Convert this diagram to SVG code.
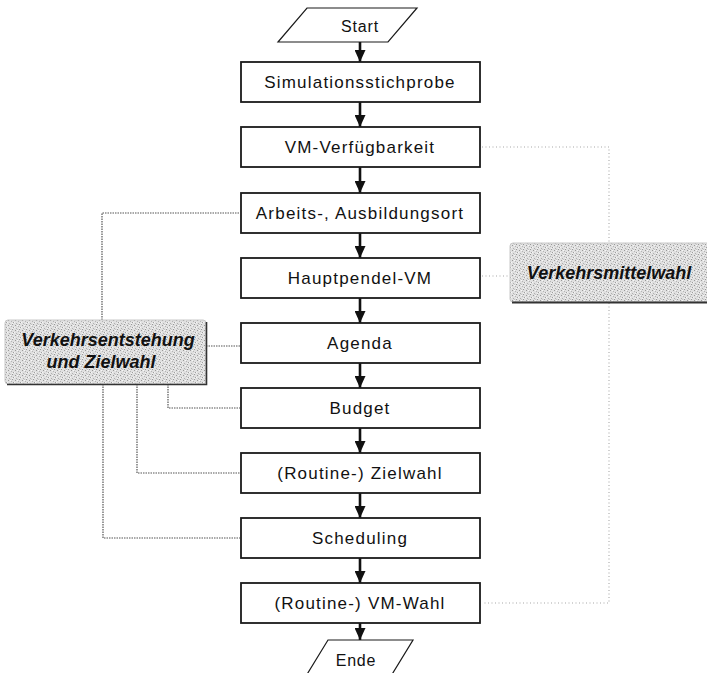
<svg xmlns="http://www.w3.org/2000/svg" width="707" height="673" viewBox="0 0 707 673">
  <defs>
    <!-- halftone-like speckle used for the two grey label panels -->
    <pattern id="speckle" width="7" height="5" patternUnits="userSpaceOnUse">
      <rect width="7" height="5" fill="#e0e0e0"/>
      <rect x="1" y="0" width="1" height="1" fill="#999"/>
      <rect x="4" y="1" width="1" height="1" fill="#b4b4b4"/>
      <rect x="6" y="2" width="1" height="1" fill="#a0a0a0"/>
      <rect x="2" y="3" width="1" height="1" fill="#b0b0b0"/>
      <rect x="5" y="4" width="1" height="1" fill="#989898"/>
      <rect x="0" y="2" width="1" height="1" fill="#f6f6f6"/>
      <rect x="3" y="0" width="1" height="1" fill="#f8f8f8"/>
      <rect x="5" y="3" width="1" height="1" fill="#f4f4f4"/>
      <rect x="3" y="4" width="1" height="1" fill="#c4c4c4"/>
    </pattern>
    <marker id="arrow" markerUnits="userSpaceOnUse" markerWidth="12" markerHeight="11" refX="12" refY="5.5" orient="auto">
      <path d="M0,0 L12,5.5 L0,11 z" fill="#111"/>
    </marker>
  </defs>
  <style>
    .box { fill: #fff; stroke: #1a1a1a; stroke-width: 1.8; }
    .io { fill: #fff; stroke: #1a1a1a; stroke-width: 1.2; }
    .lbl { font-family: "Liberation Sans", Arial, sans-serif; font-size: 17px; letter-spacing: 1.2px; fill: #111; text-anchor: middle; }
    .io-lbl { font-family: "Liberation Sans", Arial, sans-serif; font-size: 16px; letter-spacing: 0.8px; fill: #111; text-anchor: middle; }
    .panel { fill: url(#speckle); stroke: #c8c8c8; stroke-width: 1; }
    .panel-lbl { font-family: "Liberation Sans", Arial, sans-serif; font-size: 18px; font-weight: bold; font-style: italic; fill: #111; text-anchor: middle; }
    .flow { stroke: #111; stroke-width: 2.6; fill: none; marker-end: url(#arrow); }
    .link-l { stroke: #555; stroke-width: 1.2; stroke-dasharray: 1.5 1; fill: none; }
    .link-r { stroke: #a8a8a8; stroke-width: 1.1; stroke-dasharray: 1 2.5; fill: none; }
  </style>

  <!-- main process flow -->
  <g id="connectors">
    <path class="flow" d="M360,42 V62"/>
    <path class="flow" d="M360,102 V127"/>
    <path class="flow" d="M360,167 V193"/>
    <path class="flow" d="M360,233 V258"/>
    <path class="flow" d="M360,298 V323"/>
    <path class="flow" d="M360,363 V388"/>
    <path class="flow" d="M360,428 V453"/>
    <path class="flow" d="M360,493 V518"/>
    <path class="flow" d="M360,558 V583"/>
    <path class="flow" d="M360,623 V640"/>

    <!-- links from the left panel -->
    <path class="link-l" d="M102,320 V213 H240"/>
    <path class="link-l" d="M206,346 H240"/>
    <path class="link-l" d="M168,384 V408 H240"/>
    <path class="link-l" d="M137,384 V473 H240"/>
    <path class="link-l" d="M103,384 V538 H240"/>

    <!-- links from the right panel -->
    <path class="link-r" d="M482,147 H609 V243"/>
    <path class="link-r" d="M482,276 H509"/>
    <path class="link-r" d="M609,303 V603 H482"/>
  </g>

  <g id="start">
    <polygon class="io" points="307,8 417,8 388,42 278,42"/>
    <text class="io-lbl" x="360" y="32">Start</text>
  </g>

  <g id="simulationsstichprobe">
    <rect class="box" x="241" y="62" width="239" height="40"/>
    <text class="lbl" x="360" y="88">Simulationsstichprobe</text>
  </g>

  <g id="vm-verfuegbarkeit">
    <rect class="box" x="241" y="127" width="239" height="40"/>
    <text class="lbl" x="360" y="153">VM-Verfügbarkeit</text>
  </g>

  <g id="arbeitsort">
    <rect class="box" x="241" y="193" width="239" height="40"/>
    <text class="lbl" x="360" y="219">Arbeits-, Ausbildungsort</text>
  </g>

  <g id="hauptpendel-vm">
    <rect class="box" x="241" y="258" width="239" height="40"/>
    <text class="lbl" x="360" y="284">Hauptpendel-VM</text>
  </g>

  <g id="agenda">
    <rect class="box" x="241" y="323" width="239" height="40"/>
    <text class="lbl" x="360" y="349">Agenda</text>
  </g>

  <g id="budget">
    <rect class="box" x="241" y="388" width="239" height="40"/>
    <text class="lbl" x="360" y="414">Budget</text>
  </g>

  <g id="zielwahl">
    <rect class="box" x="241" y="453" width="239" height="40"/>
    <text class="lbl" x="360" y="479">(Routine-) Zielwahl</text>
  </g>

  <g id="scheduling">
    <rect class="box" x="241" y="518" width="239" height="40"/>
    <text class="lbl" x="360" y="544">Scheduling</text>
  </g>

  <g id="vm-wahl">
    <rect class="box" x="241" y="583" width="239" height="40"/>
    <text class="lbl" x="360" y="609">(Routine-) VM-Wahl</text>
  </g>

  <g id="ende">
    <polygon class="io" points="328,640 413,640 391,676 306,676"/>
    <text class="io-lbl" x="356" y="666">Ende</text>
  </g>

  <!-- grey label panels -->
  <g id="verkehrsentstehung">
    <rect class="panel" x="5" y="320" width="201" height="64" rx="3"/>
    <path d="M7,384.5 H206.5 V322" fill="none" stroke="#333" stroke-width="1.6"/>
    <text class="panel-lbl" x="108" y="346">Verkehrsentstehung</text>
    <text class="panel-lbl" x="101" y="368">und Zielwahl</text>
  </g>

  <g id="verkehrsmittelwahl">
    <rect class="panel" x="510" y="243" width="205" height="59" rx="3"/>
    <path d="M512,302.5 H707" fill="none" stroke="#333" stroke-width="1.8"/>
    <text class="panel-lbl" x="609" y="279">Verkehrsmittelwahl</text>
  </g>
</svg>
